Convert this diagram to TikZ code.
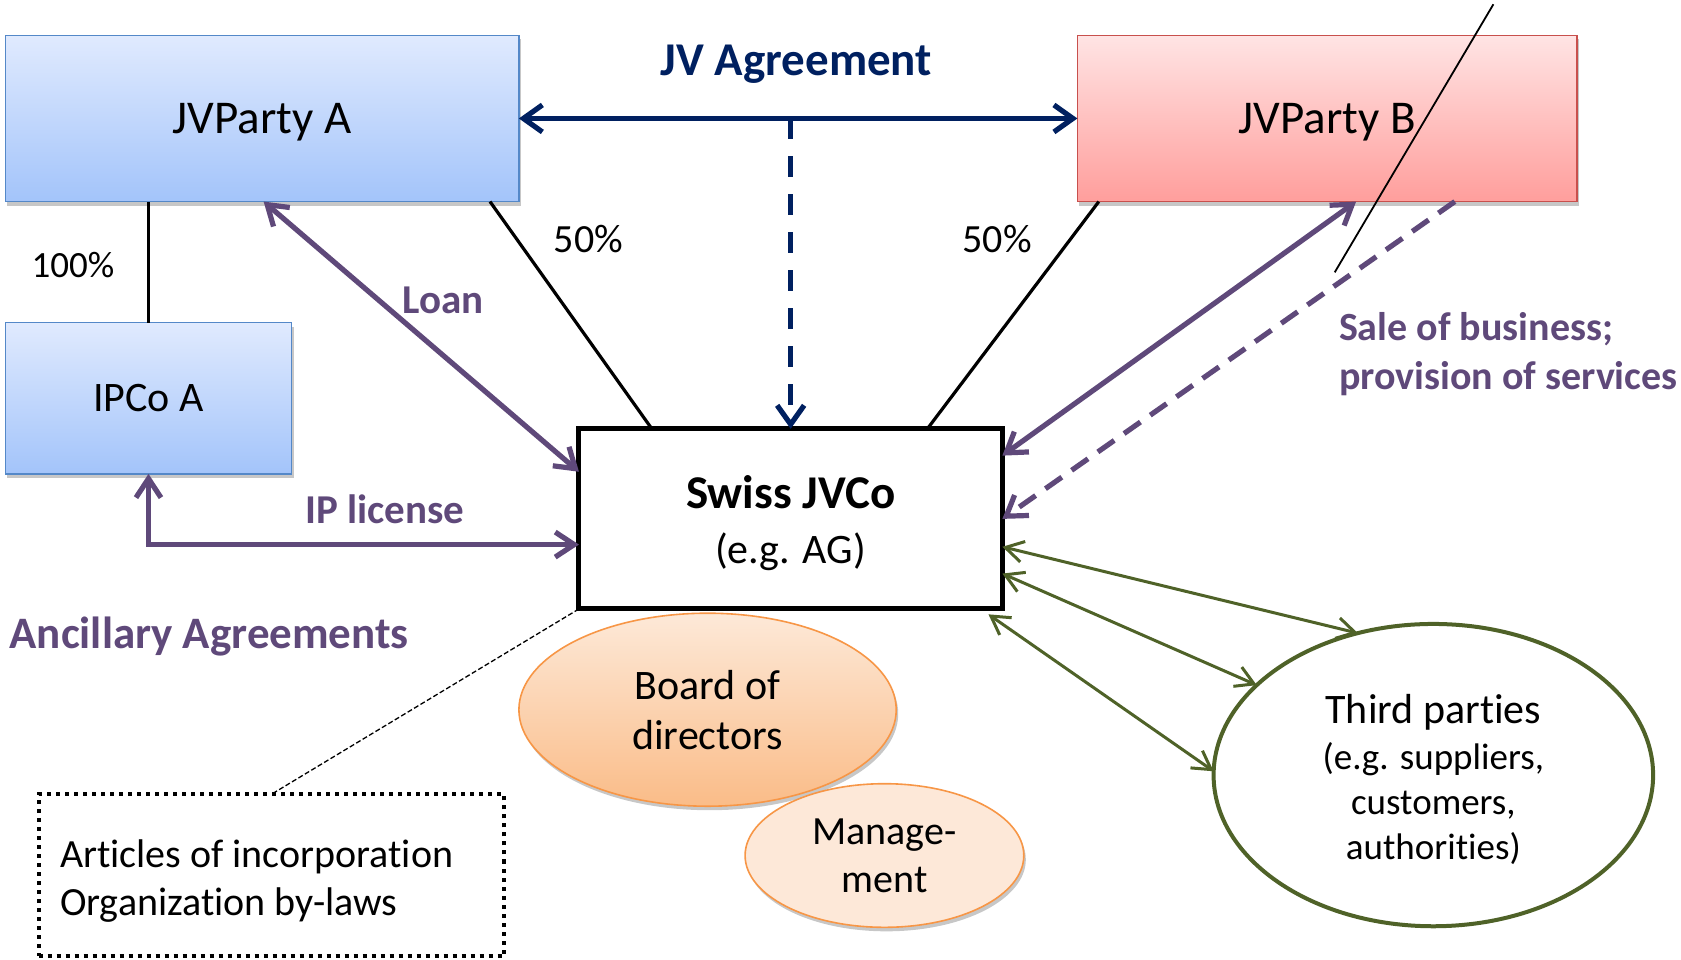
\documentclass[tikz,border=0pt]{standalone}
\usepackage{fontspec}
\setmainfont{Carlito}[Ligatures=NoCommon]
\usetikzlibrary{arrows.meta,shapes.geometric,shadows,calc}

\definecolor{jvnavy}{RGB}{0,32,96}
\definecolor{jvpurple}{RGB}{95,73,122}
\definecolor{jvolive}{RGB}{79,98,40}
\definecolor{jvorange}{RGB}{247,150,70}
\definecolor{blueline}{RGB}{84,136,200}
\definecolor{bluetop}{RGB}{224,234,254}
\definecolor{bluebot}{RGB}{163,196,250}
\definecolor{redline}{RGB}{200,80,77}
\definecolor{redtop}{RGB}{255,228,228}
\definecolor{redbot}{RGB}{255,158,156}
\definecolor{orangetop}{RGB}{253,233,216}
\definecolor{orangebot}{RGB}{250,188,136}
\definecolor{mgmtfill}{RGB}{253,232,216}

\begin{document}
\begin{tikzpicture}[x=1.072pt,y=-1.072pt,
  every node/.style={inner sep=0pt,outer sep=0pt},
  softshadow/.style={drop shadow={shadow xshift=2pt,shadow yshift=-4pt,fill=black,opacity=0.22}},
  bluebox/.style={rectangle,draw=blueline,line width=1.6pt,softshadow,
    top color=bluetop,bottom color=bluebot},
  redbox/.style={rectangle,draw=redline,line width=1.6pt,softshadow,
    top color=redtop,bottom color=redbot},
  bigtext/.style={font=\fontsize{47}{56}\selectfont},
  purplelabel/.style={text=jvpurple,font=\bfseries\fontsize{41}{49}\selectfont},
  navylink/.style={draw=jvnavy,line width=5.2pt,>={Straight Barb[length=19pt,width=27pt]}},
  purplelink/.style={draw=jvpurple,line width=5.2pt,>={Straight Barb[length=19pt,width=25pt]}},
  greenlink/.style={draw=jvolive,line width=3pt,>={Straight Barb[length=18pt,width=21pt]}},
  stake/.style={draw=black,line width=3.2pt},
]
\useasboundingbox (0,0) rectangle (1568,895);

% parties and the joint venture company
\node[bluebox,bigtext,text depth=0pt,minimum width=513.5pt,minimum height=166.2pt] (jvA) at (244.5,110.5) {JVParty A};
\node[redbox,bigtext,text depth=0pt,minimum width=499.6pt,minimum height=166.2pt] (jvB) at (1238,110.5) {JVParty B};
\node[bluebox,font=\fontsize{42}{50}\selectfont,minimum width=286.2pt,minimum height=151.2pt] (ipco) at (138.5,371.5) {IPCo A};
\node[rectangle,draw=black,fill=white,line width=5pt,minimum width=423.4pt,minimum height=180.1pt] (jvco) at (737.5,484) {};
\node[align=center,font=\fontsize{42}{55}\selectfont] (jvcolbl) at (737.5,487.5)
  {{\bfseries\fontsize{47}{55}\selectfont Swiss JVCo}\\(e.g. AG)};

% corporate bodies
\node[ellipse,draw=jvorange,line width=1.6pt,softshadow,top color=orangetop,bottom color=orangebot,
  minimum width=377.3pt,minimum height=193pt,align=center,font=\fontsize{42}{50}\selectfont] (board) at (660,662)
  {Board of\\directors};
\node[ellipse,draw=jvorange,line width=1.6pt,softshadow,fill=mgmtfill,
  minimum width=278.7pt,minimum height=143.6pt,align=center,font=\fontsize{40}{48}\selectfont] (mgmt) at (825,798)
  {Manage-\\ment};

% third parties
\node[ellipse,draw=jvolive,line width=4pt,fill=white,
  minimum width=439.5pt,minimum height=302.3pt] (third) at (1337,723) {};
\node[align=center,font=\fontsize{37}{45}\selectfont] (thirdlbl) at (1337,727)
  {{\fontsize{42}{45}\selectfont Third parties}\\[1pt](e.g. suppliers,\\customers,\\authorities)};

% constitutional documents
\node[rectangle,draw=black,line width=4pt,dash pattern=on 4pt off 5pt,
  minimum width=465.2pt,minimum height=161.9pt] (charter) at (253,816.5) {};
\node[anchor=west,align=left,font=\fontsize{40}{48}\selectfont] (charterlbl) at (56,821.5)
  {Articles of incorporation\\Organization by-laws};

% labels
\node[text=jvnavy,font=\bfseries\fontsize{47}{56}\selectfont] (jvlbl) at (743,60) {JV Agreement};
\node[purplelabel] (loanlbl) at (413,280) {Loan};
\node[purplelabel] (iplbl) at (359,475) {IP license};
\node[purplelabel,anchor=west,font=\bfseries\fontsize{45}{54}\selectfont] (anclbl) at (9,594) {Ancillary Agreements};
\node[purplelabel,anchor=west,align=left,font=\bfseries\fontsize{40}{49}\selectfont] (salelbl) at (1249,330)
  {Sale of business;\\provision of services};
\node[font=\fontsize{37}{44}\selectfont] (pct100) at (68,247) {100\%};
\node[font=\fontsize{40}{48}\selectfont] (pctA) at (549,223) {50\%};
\node[font=\fontsize{40}{48}\selectfont] (pctB) at (930,223) {50\%};

% shareholdings
\draw[draw=black,line width=2.4pt] (ipco.north) -- (ipco.north |- jvA.south);
\draw[stake] ([xshift=-28.9pt]jvA.south east) -- ([xshift=72.9pt]jvco.north west);
\draw[stake] ([xshift=21.4pt]jvB.south west) -- ([xshift=-75pt]jvco.north east);

% JV agreement
\draw[navylink,<->] (jvA.east) -- (jvB.west);
\draw[navylink,->,dash pattern=on 21pt off 17pt] (jvco.north |- jvA.east) -- (jvco.north);

% ancillary agreements
\draw[purplelink,<->] ([xshift=1.5pt]jvA.south) -- ([yshift=-42.9pt]jvco.north west);
\draw[purplelink,<->] (ipco.south) |- ([yshift=-25.7pt]jvco.west);
\draw[purplelink,<->] ([xshift=28.9pt]jvB.south) -- ([yshift=-26.8pt]jvco.north east);
\draw[purplelink,->,dash pattern=on 20pt off 12pt] ([xshift=-122.2pt]jvB.south east) -- (jvco.east);

% struck-through line
\coordinate (strikeTop) at (1393,4);
\coordinate (strikeEnd) at (1245,254);
\draw[draw=black,line width=1.8pt] (strikeTop) -- (strikeEnd);

% relations with third parties
\draw[greenlink,<->] ([yshift=-27.9pt]jvco.east) -- (third.118);
\draw[greenlink,<->] ([yshift=-54.7pt]jvco.east) -- (third.153);
\draw[greenlink,<->] ([xshift=-13.9pt,yshift=-5.4pt]jvco.south east) -- (third.179);

% link to the constitutional documents
\draw[draw=black,line width=1.3pt,dash pattern=on 5pt off 2.5pt] (jvco.south west) -- (charter.north);

\end{tikzpicture}
\end{document}
